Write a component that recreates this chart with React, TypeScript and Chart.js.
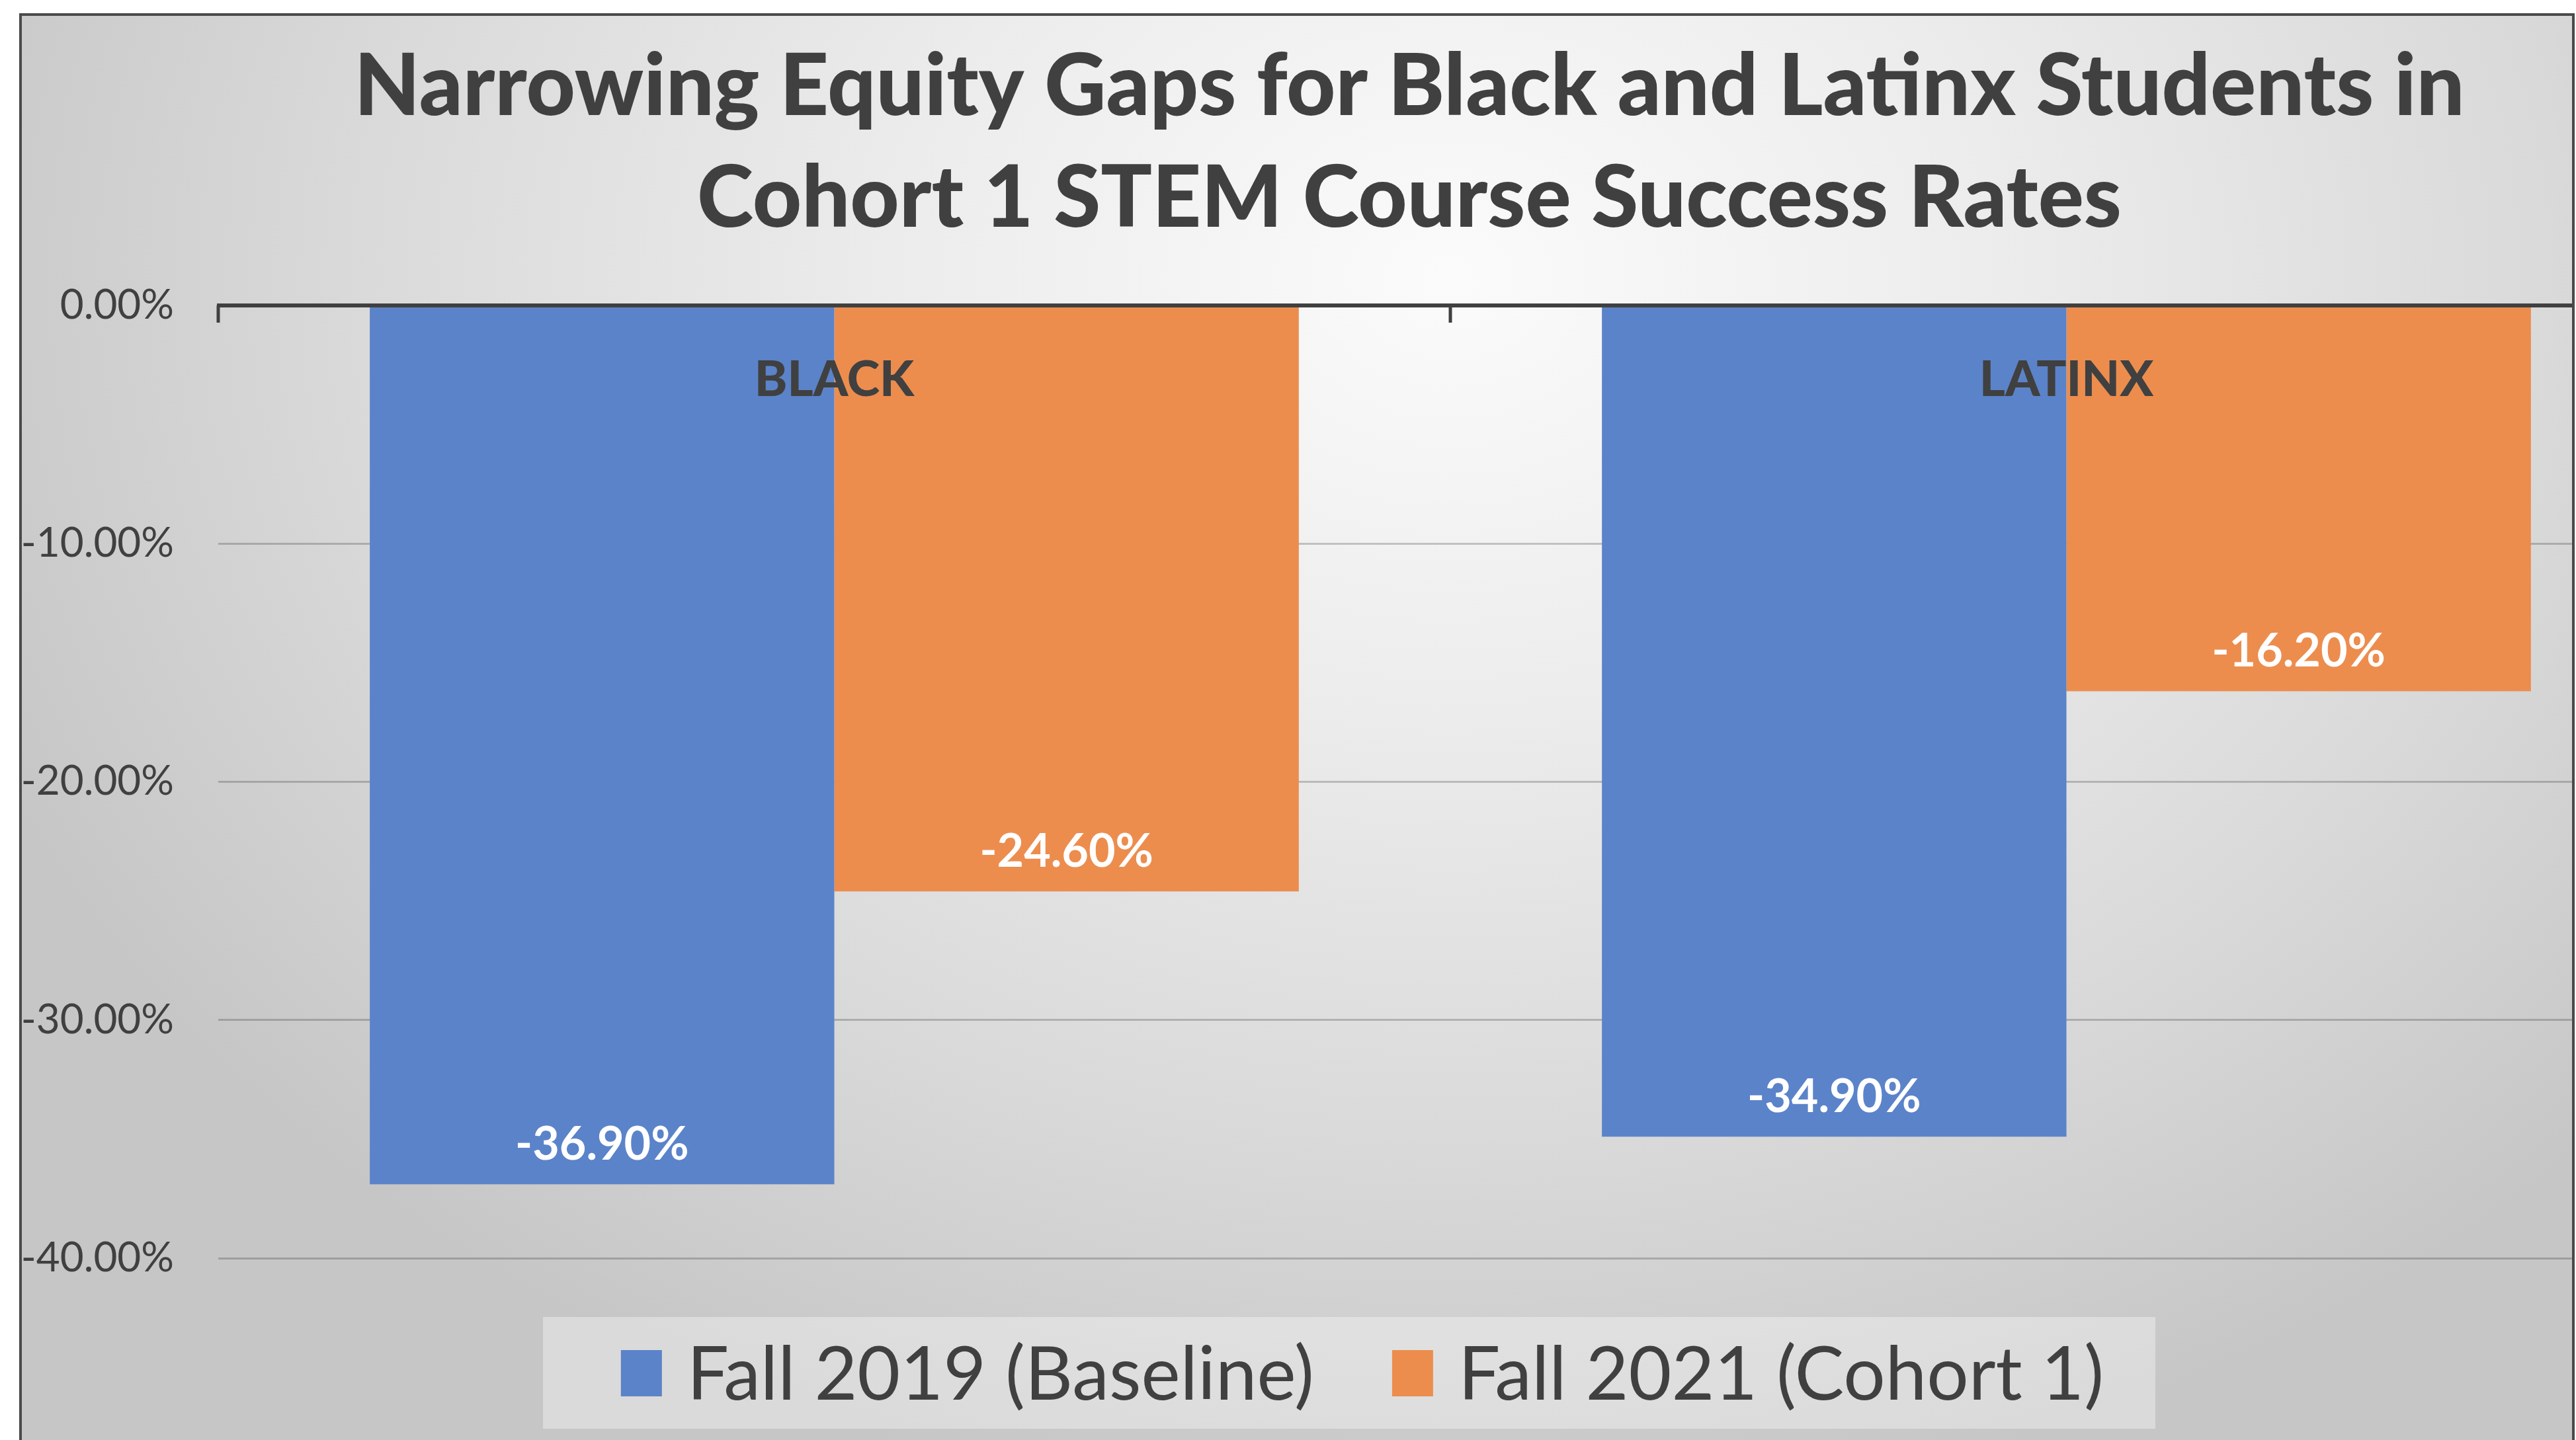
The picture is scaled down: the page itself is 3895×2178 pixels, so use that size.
import React, { useEffect, useRef } from "react";
import { Chart, registerables } from "chart.js";

Chart.register(...registerables);

const categories = ["BLACK", "LATINX"];
const seriesNames = ["Fall 2019 (Baseline)", "Fall 2021 (Cohort 1)"];
const baseline2019 = [-36.9, -34.9];
const cohort2021 = [-24.6, -16.2];
const yTickValues = [0, -10, -20, -30, -40];
const titleLines = [
  "Narrowing Equity Gaps for Black and Latinx Students in",
  "Cohort 1 STEM Course Success Rates",
];
const seriesColors = ["#5B83C9", "#EC8D4E"];

const CANVAS_W = 4262;
const CANVAS_H = 2178;
const FONT = "Lato, 'Open Sans', sans-serif";
const TEXT_DARK = "#404040";

const overlayPlugin = {
  id: "overlay",
  afterLayout(chart: any) {
    // let the y tick labels use the whole left margin (no clipping)
    chart.scales.y.left = 0;
  },
  afterDatasetsDraw(chart: any) {
    const { ctx, chartArea, scales } = chart;
    const x = scales.x;
    const y = scales.y;
    ctx.save();
    // value labels inside bar ends
    ctx.fillStyle = "#ffffff";
    ctx.font = `bold 70px ${FONT}`;
    ctx.textAlign = "center";
    ctx.textBaseline = "middle";
    chart.data.datasets.forEach((ds: any, di: number) => {
      const meta = chart.getDatasetMeta(di);
      meta.data.forEach((el: any, i: number) => {
        const v = ds.data[i] as number;
        ctx.fillText(v.toFixed(2) + "%", el.x, el.y - 60);
      });
    });
    // zero axis line
    const y0 = y.getPixelForValue(0);
    ctx.strokeStyle = TEXT_DARK;
    ctx.lineWidth = 6;
    ctx.beginPath();
    ctx.moveTo(chartArea.left - 2, y0);
    ctx.lineTo(chartArea.right, y0);
    ctx.stroke();
    // tick marks at category boundaries
    const labels = x.getLabels();
    ctx.lineWidth = 5;
    for (let i = 0; i <= labels.length; i++) {
      const px = x.getPixelForValue(i - 0.5);
      ctx.beginPath();
      ctx.moveTo(px, y0);
      ctx.lineTo(px, y0 + 26);
      ctx.stroke();
    }
    // category labels
    ctx.fillStyle = TEXT_DARK;
    ctx.font = `900 75px ${FONT}`;
    labels.forEach((lab: string, i: number) => {
      ctx.fillText(lab, x.getPixelForValue(i), y0 + 113);
    });
    ctx.restore();
  },
  afterDraw(chart: any) {
    const { ctx } = chart;
    ctx.save();
    // legend box
    const boxL = 821;
    const boxR = 3259;
    const boxT = 1992;
    const boxB = 2161;
    ctx.fillStyle = "rgba(255,255,255,0.35)";
    ctx.fillRect(boxL, boxT, boxR - boxL, boxB - boxT);
    ctx.font = `112px ${FONT}`;
    ctx.textBaseline = "middle";
    ctx.textAlign = "left";
    const sq = 62;
    const sqH = 70;
    const gapText = 38;
    const gapItem = 118;
    const widths = chart.data.datasets.map((d: any) => ctx.measureText(d.label).width);
    let total = 0;
    widths.forEach((w: number, i: number) => {
      total += sq + gapText + w + (i < widths.length - 1 ? gapItem : 0);
    });
    let cx = 2060 - total / 2;
    const cy = 2077;
    chart.data.datasets.forEach((d: any, i: number) => {
      ctx.fillStyle = d.backgroundColor;
      ctx.fillRect(cx, cy - sqH / 2, sq, sqH);
      ctx.fillStyle = TEXT_DARK;
      ctx.fillText(d.label, cx + sq + gapText, cy + 4);
      cx += sq + gapText + widths[i] + gapItem;
    });
    ctx.restore();
  },
};

export default function App() {
  const ref = useRef<HTMLCanvasElement>(null);
  useEffect(() => {
    const chart = new Chart(ref.current as HTMLCanvasElement, {
      type: "bar",
      data: {
        labels: categories,
        datasets: [
          {
            label: seriesNames[0],
            data: baseline2019,
            backgroundColor: seriesColors[0],
            categoryPercentage: 0.754,
            barPercentage: 1,
          },
          {
            label: seriesNames[1],
            data: cohort2021,
            backgroundColor: seriesColors[1],
            categoryPercentage: 0.754,
            barPercentage: 1,
          },
        ],
      },
      options: {
        responsive: false,
        animation: false,
        devicePixelRatio: 1,
        layout: { padding: { left: 206, right: 206, top: 0, bottom: 275 } },
        plugins: {
          legend: { display: false },
          tooltip: { enabled: false },
          title: {
            display: true,
            text: titleLines,
            color: TEXT_DARK,
            font: { family: FONT, weight: "900", size: 129, lineHeight: 1.31 },
            padding: { top: 48, bottom: 76 },
          },
        },
        scales: {
          x: { display: false },
          y: {
            min: -40,
            max: 0,
            afterFit: (s: any) => {
              s.width = 124;
            },
            afterBuildTicks: (s: any) => {
              s.ticks = yTickValues.map((v) => ({ value: v }));
            },
            border: { display: false },
            grid: {
              drawTicks: false,
              color: (c: any) => (c.tick && c.tick.value === 0 ? "rgba(0,0,0,0)" : "rgba(0,0,0,0.2)"),
              lineWidth: 3,
            },
            ticks: {
              padding: 67,
              color: TEXT_DARK,
              font: { family: FONT, size: 62 },
              callback: (v: any) => Number(v).toFixed(2) + "%",
            },
          },
        },
      },
      plugins: [overlayPlugin],
    } as any);
    return () => chart.destroy();
  }, []);

  return (
    <div style={{ position: "fixed", inset: 0, background: "#ffffff", overflow: "hidden" }}>
      <div
        style={{
          position: "absolute",
          left: 29,
          top: 20,
          width: 3864,
          height: 2220,
          boxSizing: "border-box",
          border: "4px solid #4a4a4a",
          overflow: "hidden",
          background:
            "radial-gradient(ellipse 62% 85% at 56% 18%, #fbfbfb 0%, #ececec 35%, #d9d9d9 70%, #c6c6c6 100%)",
        }}
      >
        <canvas
          ref={ref}
          width={CANVAS_W}
          height={CANVAS_H}
          style={{ position: "absolute", left: -33, top: -24, width: CANVAS_W, height: CANVAS_H }}
        />
      </div>
    </div>
  );
}
